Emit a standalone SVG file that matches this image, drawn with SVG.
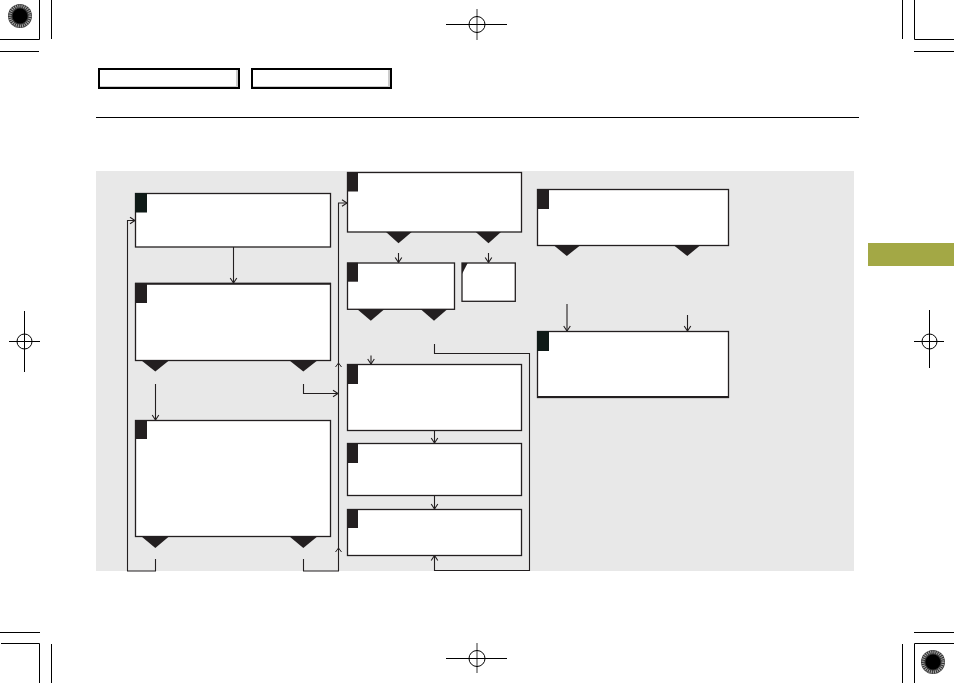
<svg xmlns="http://www.w3.org/2000/svg" width="954" height="683" viewBox="0 0 954 683">
<style>
.crop{stroke:#000;stroke-width:1;fill:none}
.cropg{stroke:#999;stroke-width:2;fill:none}
.box{fill:#fff;stroke:#231f20;stroke-width:1.3}
.sq{fill:#231f20}
.tri{fill:#231f20}
.con{fill:none;stroke:#231f20;stroke-width:1.1}
.chev{fill:none;stroke:#231f20;stroke-width:1}
</style>
<defs>
<marker id="ah" markerUnits="userSpaceOnUse" markerWidth="9" markerHeight="9" viewBox="0 0 9 9" refX="8" refY="4.5" orient="auto">
<path d="M3,1.2 L8,4.5 L3,7.8" fill="none" stroke="#231f20" stroke-width="1.1"/>
</marker>
<g id="disc">
<circle r="12" fill="#333"/>
<circle r="10" fill="none" stroke="#aaa" stroke-width="3" stroke-dasharray="1 1.1"/>
<circle r="7.5" fill="#000"/>
</g>
</defs>
<rect width="954" height="683" fill="#fff"/>

<g id="printmarks">
<line class="crop" x1="39.5" y1="0" x2="39.5" y2="39.5"/>
<line class="crop" x1="0" y1="39.5" x2="39.5" y2="39.5"/>
<line class="crop" x1="51.5" y1="0" x2="51.5" y2="39"/>
<line class="crop" x1="0" y1="51.5" x2="39" y2="51.5"/>
<use href="#disc" x="20" y="16"/>
<line class="crop" x1="902.5" y1="0" x2="902.5" y2="39"/>
<line class="crop" x1="914.5" y1="0" x2="914.5" y2="39.5"/>
<line class="crop" x1="914.5" y1="39.5" x2="954" y2="39.5"/>
<line class="crop" x1="914" y1="51.5" x2="954" y2="51.5"/>
<line class="crop" x1="0" y1="632.5" x2="40" y2="632.5"/>
<line class="crop" x1="1" y1="643.5" x2="39.5" y2="643.5"/>
<line class="crop" x1="39.5" y1="643.5" x2="39.5" y2="683"/>
<line class="crop" x1="51.5" y1="644" x2="51.5" y2="683"/>
<line class="crop" x1="914" y1="632.5" x2="954" y2="632.5"/>
<line class="crop" x1="914.5" y1="643.5" x2="954" y2="643.5"/>
<line class="crop" x1="914.5" y1="643.5" x2="914.5" y2="683"/>
<line class="crop" x1="902.5" y1="644" x2="902.5" y2="683"/>
<use href="#disc" x="933" y="662"/>
<line class="cropg" x1="477" y1="9" x2="477" y2="40"/>
<line class="crop" x1="446" y1="24.5" x2="507" y2="24.5"/>
<circle class="crop" cx="477" cy="24.5" r="8"/>
<line class="cropg" x1="477" y1="643" x2="477" y2="673"/>
<line class="crop" x1="446" y1="658.5" x2="507" y2="658.5"/>
<circle class="crop" cx="477" cy="658.5" r="8"/>
<line class="crop" x1="24.5" y1="311" x2="24.5" y2="372"/>
<line class="crop" x1="9" y1="341.5" x2="40" y2="341.5"/>
<circle class="crop" cx="24.5" cy="341.5" r="7.5"/>
<line class="crop" x1="929.5" y1="310" x2="929.5" y2="368"/>
<line class="crop" x1="914" y1="341.5" x2="944" y2="341.5"/>
<circle class="crop" cx="929.5" cy="341.5" r="7.5"/>
</g>

<g id="header">
<rect x="99" y="69" width="140" height="19" fill="#fff" stroke="#000" stroke-width="2"/>
<line x1="237" y1="70" x2="237" y2="87" stroke="#bbb" stroke-width="1.5"/>
<line x1="100" y1="86.5" x2="237" y2="86.5" stroke="#ccc" stroke-width="1"/>
<rect x="252" y="69" width="139" height="19" fill="#fff" stroke="#000" stroke-width="2"/>
<line x1="389" y1="70" x2="389" y2="87" stroke="#bbb" stroke-width="1.5"/>
<line x1="253" y1="86.5" x2="389" y2="86.5" stroke="#ccc" stroke-width="1"/>
<line x1="96" y1="117.5" x2="859" y2="117.5" stroke="#000" stroke-width="1"/>
<rect x="868" y="243" width="86" height="23" fill="#a3a845"/>
</g>

<rect id="panel" x="96" y="171" width="758" height="400" fill="#e8e8e8"/>

<g id="connectors">
<line class="con" x1="233.5" y1="247" x2="233.5" y2="283" marker-end="url(#ah)"/>
<path class="con" d="M155.5,559 V571 H127.5 V220.5 H135" marker-end="url(#ah)"/>
<line class="con" x1="155.5" y1="384" x2="155.5" y2="420" marker-end="url(#ah)"/>
<path class="con" d="M303.5,384 V393.5 H338" marker-end="url(#ah)"/>
<path class="con" d="M303.5,559 V571 H338.5 V203 H347" marker-end="url(#ah)"/>
<path class="chev" d="M335.5,367 L338.5,363 L341.5,367"/>
<path class="chev" d="M335.5,552 L338.5,548 L341.5,552"/>
<line class="con" x1="398.5" y1="253" x2="398.5" y2="262.5" marker-end="url(#ah)"/>
<line class="con" x1="488.5" y1="253" x2="488.5" y2="262.5" marker-end="url(#ah)"/>
<line class="con" x1="371" y1="355.5" x2="371" y2="364" marker-end="url(#ah)"/>
<path class="con" d="M434.5,344 V353.5 H529.5 V570.5 H434.5 V555.5" marker-end="url(#ah)"/>
<line class="con" x1="434.5" y1="430" x2="434.5" y2="443" marker-end="url(#ah)"/>
<line class="con" x1="434.5" y1="495" x2="434.5" y2="509" marker-end="url(#ah)"/>
<line class="con" x1="567" y1="304" x2="567" y2="331" marker-end="url(#ah)"/>
<line class="con" x1="687.5" y1="315" x2="687.5" y2="331" marker-end="url(#ah)"/>
</g>

<g id="nodeA">
<rect class="box" x="135.5" y="193.5" width="195" height="53.5"/>
<rect x="135" y="193" width="12" height="19.5" fill="#0f1a17"/>
</g>
<g id="nodeB">
<rect class="box" x="135.5" y="283.5" width="195" height="77"/>
<line x1="135" y1="283.7" x2="331" y2="283.7" stroke="#231f20" stroke-width="2"/>
<rect class="sq" x="135" y="283" width="12" height="20"/>
<path class="tri" d="M141.5,360.5 H169 L155.3,371.5 Z"/>
<path class="tri" d="M289.5,360.5 H317.3 L303.3,371.5 Z"/>
</g>
<g id="nodeC">
<rect class="box" x="135.5" y="420.5" width="195" height="116"/>
<rect class="sq" x="135" y="420" width="12" height="19"/>
<path class="tri" d="M141.5,536.5 H169 L155.3,548 Z"/>
<path class="tri" d="M289.5,536.5 H317.3 L303.3,548 Z"/>
</g>
<g id="nodeE">
<rect class="box" x="347.5" y="172.5" width="174" height="59.5"/>
<rect class="sq" x="347" y="172" width="11" height="19.5"/>
<path class="tri" d="M386,232 H411.7 L398.5,243.3 Z"/>
<path class="tri" d="M475.7,232 H501 L488.5,243.3 Z"/>
</g>
<g id="nodeF">
<rect class="box" x="347.5" y="263" width="107" height="46.3"/>
<rect class="sq" x="347" y="262.7" width="11" height="19"/>
<path class="tri" d="M357.3,309.3 H384.3 L370.8,320.7 Z"/>
<path class="tri" d="M420.7,309.3 H447.3 L434,320.7 Z"/>
</g>
<g id="nodeG">
<rect class="box" x="462" y="263" width="53.3" height="38.3"/>
<path class="sq" d="M462,263 H467.7 L462,274 Z"/>
</g>
<g id="nodeH">
<rect class="box" x="347.5" y="364.5" width="174" height="66"/>
<rect class="sq" x="347" y="364" width="11" height="20"/>
</g>
<g id="nodeI">
<rect class="box" x="347.5" y="443.5" width="174" height="52"/>
<rect class="sq" x="347" y="443" width="11" height="20"/>
</g>
<g id="nodeJ">
<rect class="box" x="347.5" y="509.5" width="174" height="46"/>
<rect class="sq" x="347" y="509" width="11" height="19"/>
</g>
<g id="nodeK">
<rect class="box" x="537.5" y="189.5" width="191" height="56"/>
<rect class="sq" x="537" y="189" width="12" height="20"/>
<path class="tri" d="M554,245.5 H580 L566.8,256 Z"/>
<path class="tri" d="M674,245.5 H700 L687.3,256 Z"/>
</g>
<g id="nodeL">
<rect class="box" x="537.5" y="331.5" width="191" height="66"/>
<line x1="537" y1="397" x2="729" y2="397" stroke="#231f20" stroke-width="2"/>
<rect x="537" y="331" width="12" height="20" fill="#0f1a17"/>
</g>
</svg>
